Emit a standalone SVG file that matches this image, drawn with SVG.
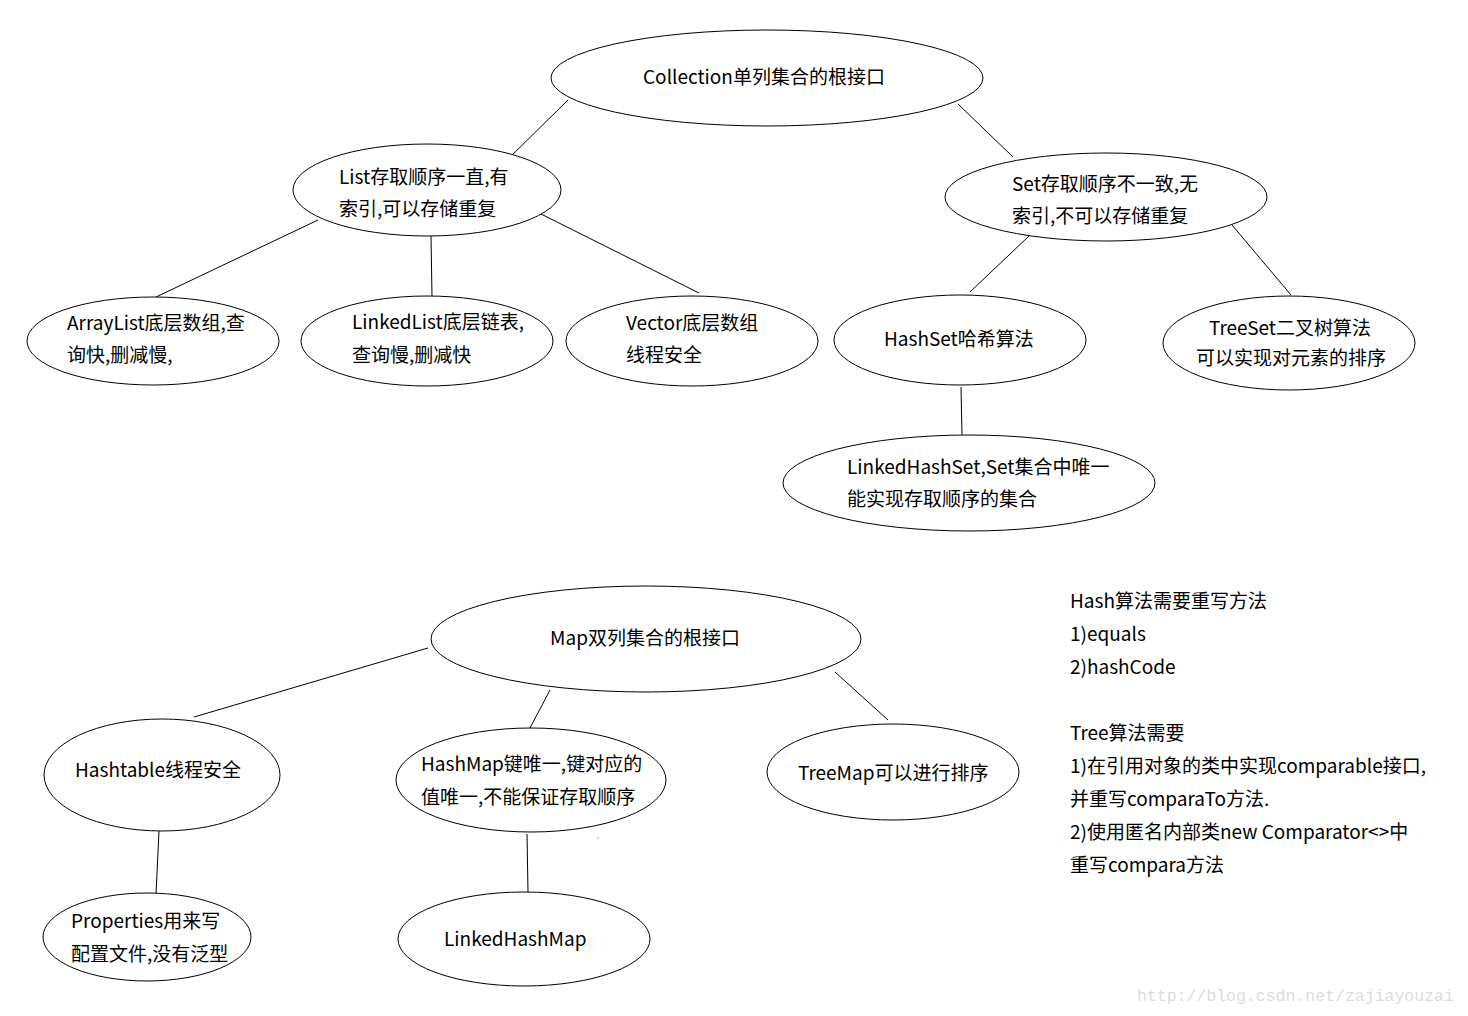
<svg xmlns="http://www.w3.org/2000/svg" width="1468" height="1016" viewBox="0 0 1468 1016">
<style>
.n{fill:#fff;stroke:#000;stroke-width:1}
.c line{stroke:#000;stroke-width:1}
text{font-family:"Noto Sans CJK SC","Microsoft YaHei",sans-serif;font-size:19px;fill:#000}
.m{text-anchor:middle}
.wm{font-family:"Liberation Mono",monospace;font-size:16.5px;fill:#dcdcdc}
</style>
<rect width="1468" height="1016" fill="#fff"/>
<g id="connectors" class="c">
<line x1="568" y1="100" x2="502" y2="165"/>
<line x1="958" y1="104" x2="1013" y2="157"/>
<line x1="318" y1="220" x2="156" y2="297"/>
<line x1="431" y1="236" x2="432" y2="296"/>
<line x1="541" y1="214" x2="699" y2="293"/>
<line x1="1029" y1="236" x2="970" y2="292"/>
<line x1="1232" y1="225" x2="1291" y2="295"/>
<line x1="961" y1="387" x2="962" y2="435"/>
<line x1="428" y1="648" x2="194" y2="717"/>
<line x1="550" y1="690" x2="530" y2="728"/>
<line x1="835" y1="672" x2="888" y2="720"/>
<line x1="159" y1="831" x2="156" y2="894"/>
<line x1="527" y1="834" x2="528" y2="892"/>
</g>
<g id="collection"><ellipse class="n" cx="767" cy="78" rx="216" ry="48"/><text x="643" y="84">Collection单列集合的根接口</text></g>
<g id="list"><ellipse class="n" cx="427" cy="190" rx="134" ry="46"/><text x="339" y="184">List存取顺序一直,有</text><text x="339" y="216">索引,可以存储重复</text></g>
<g id="set"><ellipse class="n" cx="1106" cy="197" rx="161" ry="44"/><text x="1012" y="191">Set存取顺序不一致,无</text><text x="1012" y="223">索引,不可以存储重复</text></g>
<g id="arraylist"><ellipse class="n" cx="153" cy="341" rx="126" ry="44"/><text x="67" y="330">ArrayList底层数组,查</text><text x="67" y="362">询快,删减慢,</text></g>
<g id="linkedlist"><ellipse class="n" cx="427" cy="341" rx="126" ry="45"/><text x="352" y="329">LinkedList底层链表,</text><text x="352" y="362">查询慢,删减快</text></g>
<g id="vector"><ellipse class="n" cx="692" cy="341" rx="126" ry="45"/><text x="626" y="330">Vector底层数组</text><text x="626" y="362">线程安全</text></g>
<g id="hashset"><ellipse class="n" cx="960" cy="340" rx="126" ry="45"/><text x="884" y="346">HashSet哈希算法</text></g>
<g id="treeset"><ellipse class="n" cx="1289" cy="343" rx="126" ry="47"/><text class="m" x="1290" y="335">TreeSet二叉树算法</text><text class="m" x="1291" y="365">可以实现对元素的排序</text></g>
<g id="linkedhashset"><ellipse class="n" cx="969" cy="483" rx="186" ry="48"/><text x="847" y="474">LinkedHashSet,Set集合中唯一</text><text x="847" y="506">能实现存取顺序的集合</text></g>
<g id="map"><ellipse class="n" cx="646" cy="639" rx="215" ry="53"/><text x="550" y="645">Map双列集合的根接口</text></g>
<g id="hashtable"><ellipse class="n" cx="162" cy="775" rx="118" ry="56"/><text x="75" y="777">Hashtable线程安全</text></g>
<g id="hashmap"><ellipse class="n" cx="531" cy="780" rx="135" ry="52"/><text x="421" y="771">HashMap键唯一,键对应的</text><text x="421" y="804">值唯一,不能保证存取顺序</text></g>
<g id="treemap"><ellipse class="n" cx="893" cy="772" rx="126" ry="48"/><text x="798" y="780">TreeMap可以进行排序</text></g>
<g id="properties"><ellipse class="n" cx="147" cy="937" rx="104" ry="44"/><text x="71" y="928">Properties用来写</text><text x="71" y="961">配置文件,没有泛型</text></g>
<g id="linkedhashmap"><ellipse class="n" cx="524" cy="939" rx="126" ry="47"/><text x="444" y="946">LinkedHashMap</text></g>
<circle cx="598" cy="838" r="0.6" fill="#555"/>
<g id="notes">
<text x="1070" y="608">Hash算法需要重写方法</text>
<text x="1070" y="641">1)equals</text>
<text x="1070" y="674">2)hashCode</text>
<text x="1070" y="740">Tree算法需要</text>
<text x="1070" y="773">1)在引用对象的类中实现comparable接口,</text>
<text x="1070" y="806">并重写comparaTo方法.</text>
<text x="1070" y="839">2)使用匿名内部类new Comparator&lt;&gt;中</text>
<text x="1070" y="872">重写compara方法</text>
</g>
<text class="wm" x="1137" y="1001">http://blog.csdn.net/zajiayouzai</text>
</svg>
